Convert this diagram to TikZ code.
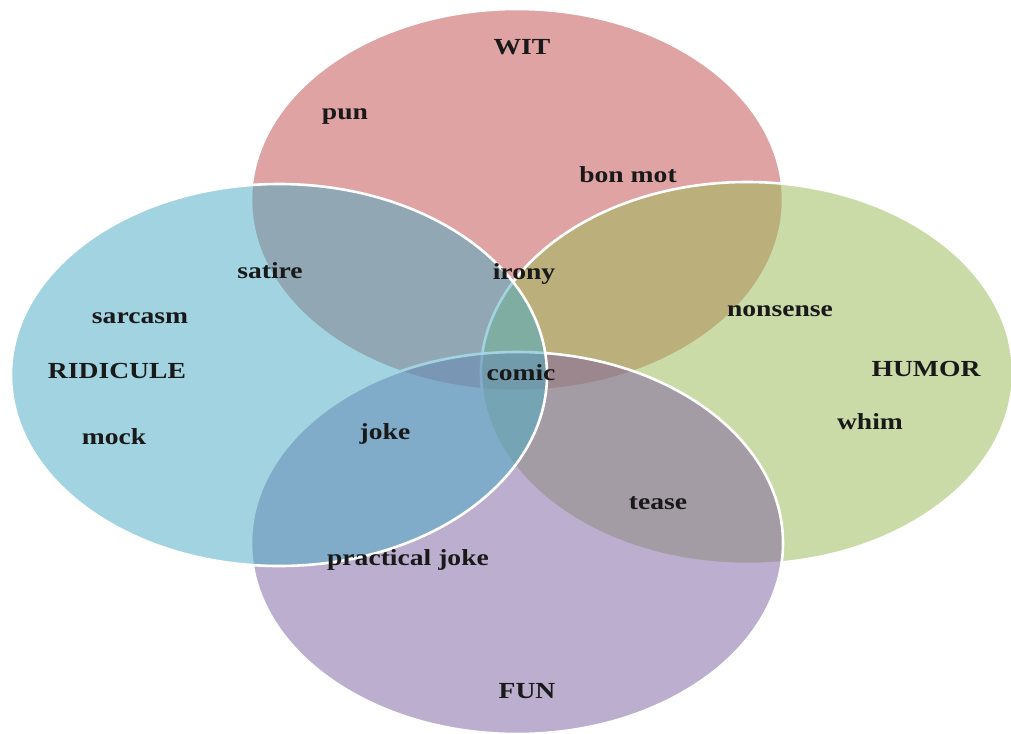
\documentclass[tikz,border=0pt]{standalone}
\usepackage{fontspec}
\setmainfont{Liberation Serif}
\usetikzlibrary{shapes.geometric}
\definecolor{witc}{RGB}{192,80,77}
\definecolor{humc}{RGB}{155,187,89}
\definecolor{func}{RGB}{128,100,162}
\definecolor{ridc}{RGB}{75,172,198}
\tikzset{
  setbox/.style={ellipse, inner sep=0pt, outer sep=0pt, minimum width=532pt, minimum height=382pt,
    fill=#1, fill opacity=0.52, draw=white, draw opacity=1, line width=2.6pt},
  lbl/.style={font=\bfseries\fontsize{23}{23}\selectfont, text=black!90, inner sep=0pt, xscale=1.2}
}
\begin{document}
\begin{tikzpicture}[x=1pt,y=-1pt]
\useasboundingbox (0,0) rectangle (1011,733);
\fill[white] (0,0) rectangle (1011,733);
\node[setbox=witc] (wit) at (517,200) {};
\node[setbox=humc] (hum) at (747,373) {};
\node[setbox=func] (fun) at (517,543) {};
\node[setbox=ridc, minimum width=536pt] (rid) at (279,375) {};
\node[lbl] (tWIT) at (522,47) {WIT};
\node[lbl] (tpun) at (345,117) {pun};
\node[lbl] (tbon) at (628,175) {bon mot};
\node[lbl] (tsat) at (270,271) {satire};
\node[lbl] (tiro) at (524,274) {irony};
\node[lbl] (tsar) at (140,318) {sarcasm};
\node[lbl] (tnon) at (780,311) {nonsense};
\node[lbl] (tRID) at (117,371) {RIDICULE};
\node[lbl] (tcom) at (521,373) {comic};
\node[lbl] (tHUM) at (926,369) {HUMOR};
\node[lbl] (tmoc) at (114,437) {mock};
\node[lbl] (tjok) at (385,434) {joke};
\node[lbl] (twhi) at (870,422) {whim};
\node[lbl] (ttea) at (658,503) {tease};
\node[lbl] (tpra) at (408,560) {practical joke};
\node[lbl] (tFUN) at (527,691) {FUN};
\end{tikzpicture}
\end{document}
